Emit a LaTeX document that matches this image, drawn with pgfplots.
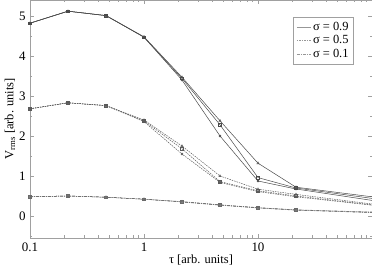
\documentclass[border=0pt]{standalone}
\usepackage{fontspec}
\setmainfont{Liberation Serif}
\usepackage{pgfplots}
\pgfplotsset{compat=1.18}
\definecolor{ln}{HTML}{4A4A4A}
\definecolor{ln2}{HTML}{5A5A5A}
\definecolor{ln3}{HTML}{6A6A6A}
\definecolor{ax}{HTML}{A0A0A0}
\begin{document}
\fontsize{13}{15}\selectfont
\begin{tikzpicture}
\begin{axis}[
 scale only axis, width=342bp, height=238bp,
 at={(0,0)}, anchor=south west,
 xmode=log, xmin=0.1, xmax=100, ymin=-0.55, ymax=5.4,
 xtick={0.1,1,10}, xticklabels={0.1,1,10},
 minor xtick={0.2,0.3,0.4,0.5,0.6,0.7,0.8,0.9,2,3,4,5,6,7,8,9,20,30,40,50,60,70,80,90},
 ytick={0,1,2,3,4,5},
 minor ytick={-0.5,0.5,1.5,2.5,3.5,4.5},
 tick align=inside,
 major tick length=4bp, minor tick length=2.5bp,
 axis line style={ax, line width=0.8pt},
 every tick/.style={ax, line width=0.6pt},
 tick label style={font=\fontsize{13}{15}\selectfont},
 /pgf/number format/assume math mode=true,
 xlabel={τ [arb. units]},
 ylabel={V\textsubscript{rms} [arb. units]},
 label style={font=\fontsize{12.5}{14}\selectfont},
 xlabel style={yshift=5bp},
 ylabel style={yshift=-5bp},
 legend style={at={(0.947,0.928)}, anchor=north east, draw=ax, line width=0.6pt,
   font=\fontsize{12.5}{13}\selectfont, inner xsep=3pt, inner ysep=3pt, row sep=-1pt, fill=white},
 legend cell align=left,
 legend image post style={ln3!70, line width=0.5pt},
 legend image code/.code={\draw[#1] (0cm,0cm) -- (14bp,0cm);},
 mark size=1.3pt,
 every axis plot/.append style={line width=0.5pt, mark options={solid, line width=0.45pt}},
]
\addlegendimage{solid}
\addlegendentry{σ = 0.9}
\addlegendimage{dash pattern=on 1.5pt off 1pt}
\addlegendentry{σ = 0.5}
\addlegendimage{dash pattern=on 3pt off 1pt on 1pt off 1pt}
\addlegendentry{σ = 0.1}
% sigma = 0.9
\addplot[ln, solid, mark=triangle, mark indices={1,2,3,4,5,6,7,8}, forget plot] coordinates {
(0.1,4.82) (0.2154,5.12) (0.4642,5.01) (1,4.48) (2.154,3.47) (4.642,2.38) (10,1.32) (21.54,0.72) (100,0.48)};
\addplot[ln, solid, mark=square, mark indices={1,2,3,4,5,6,7,8}, forget plot] coordinates {
(0.1,4.82) (0.2154,5.12) (0.4642,5.01) (1,4.47) (2.154,3.44) (4.642,2.28) (10,0.96) (21.54,0.70) (100,0.44)};
\addplot[ln, solid, mark=*, mark size=1.1pt, mark indices={1,2,3,4,5,6,7,8}, forget plot] coordinates {
(0.1,4.82) (0.2154,5.12) (0.4642,5.01) (1,4.47) (2.154,3.40) (4.642,2.00) (10,0.875) (21.54,0.675) (100,0.39)};
% sigma = 0.5
\addplot[ln2, dash pattern=on 1.5pt off 1pt, mark=triangle, mark indices={1,2,3,4,5,6,7,8}, forget plot] coordinates {
(0.1,2.68) (0.2154,2.83) (0.4642,2.76) (1,2.40) (2.154,1.75) (4.642,1.00) (10,0.67) (21.54,0.54) (100,0.30)};
\addplot[ln2, dash pattern=on 1.5pt off 1pt, mark=square, mark indices={1,2,3,4,5,6,7,8}, forget plot] coordinates {
(0.1,2.68) (0.2154,2.83) (0.4642,2.76) (1,2.38) (2.154,1.68) (4.642,0.86) (10,0.63) (21.54,0.50) (100,0.28)};
\addplot[ln2, dash pattern=on 1.5pt off 1pt, mark=*, mark size=1.1pt, mark indices={1,2,3,4,5,6,7,8}, forget plot] coordinates {
(0.1,2.68) (0.2154,2.83) (0.4642,2.76) (1,2.36) (2.154,1.55) (4.642,0.84) (10,0.61) (21.54,0.48) (100,0.27)};
% sigma = 0.1
\addplot[ln3, dash pattern=on 3pt off 1pt on 1pt off 1pt, mark=triangle, mark indices={1,2,3,4,5,6,7,8}, forget plot] coordinates {
(0.1,0.48) (0.2154,0.50) (0.4642,0.47) (1,0.42) (2.154,0.36) (4.642,0.28) (10,0.21) (21.54,0.155) (100,0.10)};
\addplot[ln3, dash pattern=on 3pt off 1pt on 1pt off 1pt, mark=square, mark indices={1,2,3,4,5,6,7,8}, forget plot] coordinates {
(0.1,0.48) (0.2154,0.50) (0.4642,0.47) (1,0.42) (2.154,0.355) (4.642,0.275) (10,0.205) (21.54,0.15) (100,0.09)};
\addplot[ln3, dash pattern=on 3pt off 1pt on 1pt off 1pt, mark=o, mark indices={1,2,3,4,5,6,7,8}, forget plot] coordinates {
(0.1,0.48) (0.2154,0.50) (0.4642,0.47) (1,0.42) (2.154,0.35) (4.642,0.27) (10,0.20) (21.54,0.145) (100,0.085)};
\end{axis}
\pgfresetboundingbox
\useasboundingbox (-30bp,-31bp) rectangle (342bp,238bp);
\end{tikzpicture}
\end{document}
